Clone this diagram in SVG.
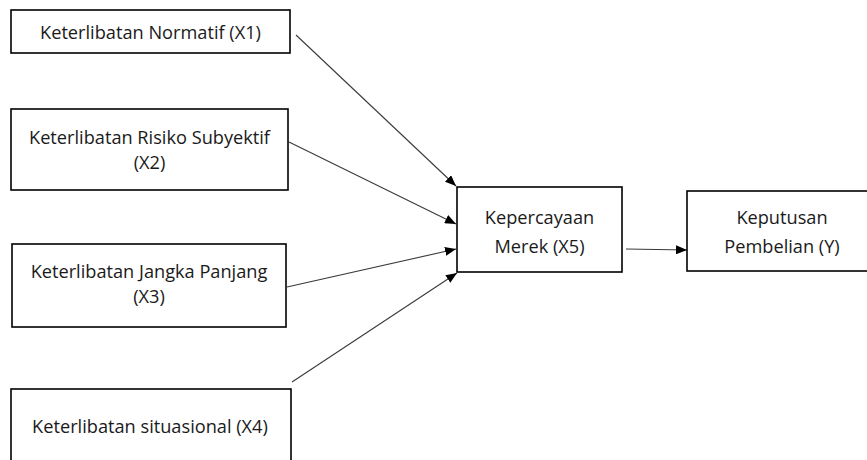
<svg xmlns="http://www.w3.org/2000/svg" width="867" height="460" viewBox="0 0 867 460">
<defs>
<style>
.box{fill:#fff;stroke:#000;stroke-width:1.6}
.t{font-family:"Open Sans","Liberation Sans",sans-serif;font-size:18.2px;fill:#1a1a1a;text-anchor:middle}
.c{stroke:#3a3a3a;stroke-width:1.1;fill:none;marker-end:url(#ah)}
</style>
<marker id="ah" viewBox="0 0 11 9" refX="11" refY="4.5" markerWidth="11" markerHeight="9" markerUnits="userSpaceOnUse" orient="auto">
<path d="M0,0 L11,4.5 L0,9 z" fill="#000"/>
</marker>
</defs>
<rect width="867" height="460" fill="#fff"/>
<g id="connectors">
<line class="c" x1="296" y1="35" x2="456" y2="186"/>
<line class="c" x1="289" y1="142" x2="456" y2="224"/>
<line class="c" x1="287" y1="287" x2="456" y2="249"/>
<line class="c" x1="292" y1="382" x2="457" y2="273"/>
<line class="c" x1="626" y1="249" x2="687" y2="250"/>
</g>
<g id="x1">
<rect class="box" x="11" y="10" width="279" height="43"/>
<text class="t" x="150.5" y="39">Keterlibatan Normatif (X1)</text>
</g>
<g id="x2">
<rect class="box" x="11" y="109" width="277" height="81"/>
<text class="t" x="149.5" y="143.5">Keterlibatan Risiko Subyektif</text>
<text class="t" x="149.5" y="168.5">(X2)</text>
</g>
<g id="x3">
<rect class="box" x="12" y="244" width="274" height="83"/>
<text class="t" x="149" y="277.5">Keterlibatan Jangka Panjang</text>
<text class="t" x="149" y="302.5">(X3)</text>
</g>
<g id="x4">
<rect class="box" x="11" y="389" width="280" height="90"/>
<text class="t" x="150" y="432.5">Keterlibatan situasional (X4)</text>
</g>
<g id="x5">
<rect class="box" x="457" y="187" width="165" height="85"/>
<text class="t" x="539.5" y="224">Kepercayaan</text>
<text class="t" x="539.5" y="252.5">Merek (X5)</text>
</g>
<g id="y">
<rect class="box" x="687" y="191" width="190" height="80"/>
<text class="t" x="782" y="224">Keputusan</text>
<text class="t" x="782" y="252.5">Pembelian (Y)</text>
</g>
</svg>
